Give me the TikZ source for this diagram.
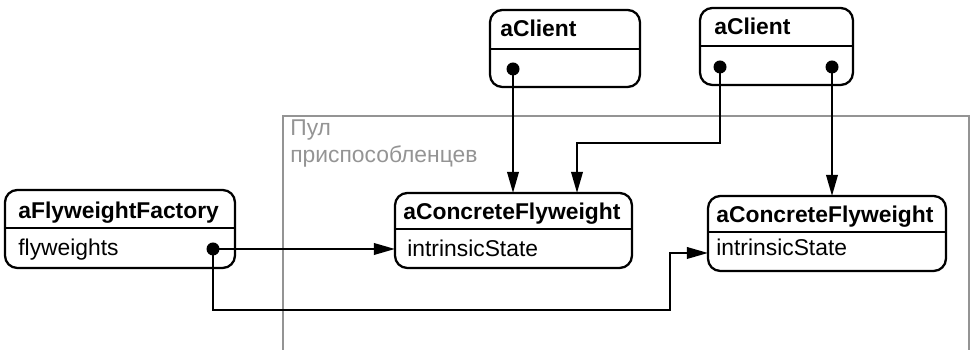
\documentclass[tikz,border=0pt]{standalone}
\usepackage{fontspec}
\setmainfont{Liberation Sans}
\usetikzlibrary{arrows.meta}
\tikzset{
  objbox/.style={draw, line width=1.3pt, rounded corners=7pt, anchor=north west,
    inner sep=0pt, outer sep=0pt},
  hdr/.style={anchor=base west, inner sep=0pt, font=\fontsize{13}{15}\selectfont\bfseries},
  attr/.style={anchor=base west, inner sep=0pt, font=\fontsize{13}{15}\selectfont},
  sep/.style={line width=1.3pt},
  link/.style={line width=1.3pt, -{Triangle[length=12pt,width=6.5pt]}},
  pool/.style={draw=black!42, line width=1.1pt},
  pooltext/.style={anchor=base west, inner sep=0pt, text=black!42,
    font=\fontsize{13}{15}\selectfont},
}
\begin{document}
\begin{tikzpicture}[x=0.02cm, y=-0.02cm]
                \useasboundingbox (0,0) rectangle (974,350);
                % pool of shared flyweights
                \draw[pool] (283,350) -- (283,116) -- (969,116) -- (969,350);
                \node[pooltext] (pl1) at (290,136) {Пул};
                \node[pooltext] (pl2) at (290,163) {приспособленцев};
                % object boxes
                \node[objbox, minimum width=4.6cm, minimum height=1.56cm] (fact) at (5,190) {};
                \node[objbox, minimum width=4.74cm, minimum height=1.5cm] (flyA) at (395,193) {};
                \node[objbox, minimum width=4.76cm, minimum height=1.5cm] (flyB) at (708,196) {};
                \node[objbox, minimum width=3cm, minimum height=1.54cm] (cliA) at (490,10) {};
                \node[objbox, minimum width=3.06cm, minimum height=1.54cm] (cliB) at (700,8) {};
                \draw[sep] (fact.west |- 0,228) -- (fact.east |- 0,228);
                \draw[sep] (flyA.west |- 0,229) -- (flyA.east |- 0,229);
                \draw[sep] (flyB.west |- 0,232) -- (flyB.east |- 0,232);
                \draw[sep] (cliA.west |- 0,49) -- (cliA.east |- 0,49);
                \draw[sep] (cliB.west |- 0,46) -- (cliB.east |- 0,46);
                \node[hdr] (factname) at (18,219) {aFlyweightFactory};
                \node[attr] (factattr) at (18,256) {flyweights};
                \node[hdr] (flyAname) at (403,220) {aConcreteFlyweight};
                \node[attr] (flyAattr) at (407,257) {intrinsicState};
                \node[hdr] (flyBname) at (716,223) {aConcreteFlyweight};
                \node[attr] (flyBattr) at (716,256) {intrinsicState};
                \node[hdr] (cliAname) at (500,37) {aClient};
                \node[hdr] (cliBname) at (714,35) {aClient};
                % reference points
                \coordinate (fdot) at (213,249);
                \coordinate (adot) at (513,69);
                \coordinate (bdotl) at (720,67);
                \coordinate (bdotr) at (832,67);
                \coordinate (bbend) at (577,143);
                % references
                \draw[link] (adot) -- (adot |- flyA.north);
                \draw[link] (bdotl) |- (bbend) -- (bbend |- flyA.north);
                \draw[link] (bdotr) -- (bdotr |- flyB.north);
                \draw[link] (fdot) -- (fdot -| flyA.west);
                \draw[link] (fdot) |- (670,310) |- ([yshift=-0.39cm]flyB.west);
                \foreach \d in {fdot, adot, bdotl, bdotr}
                    \fill (\d) circle[radius=0.13cm];
            \end{tikzpicture}
\end{document}
